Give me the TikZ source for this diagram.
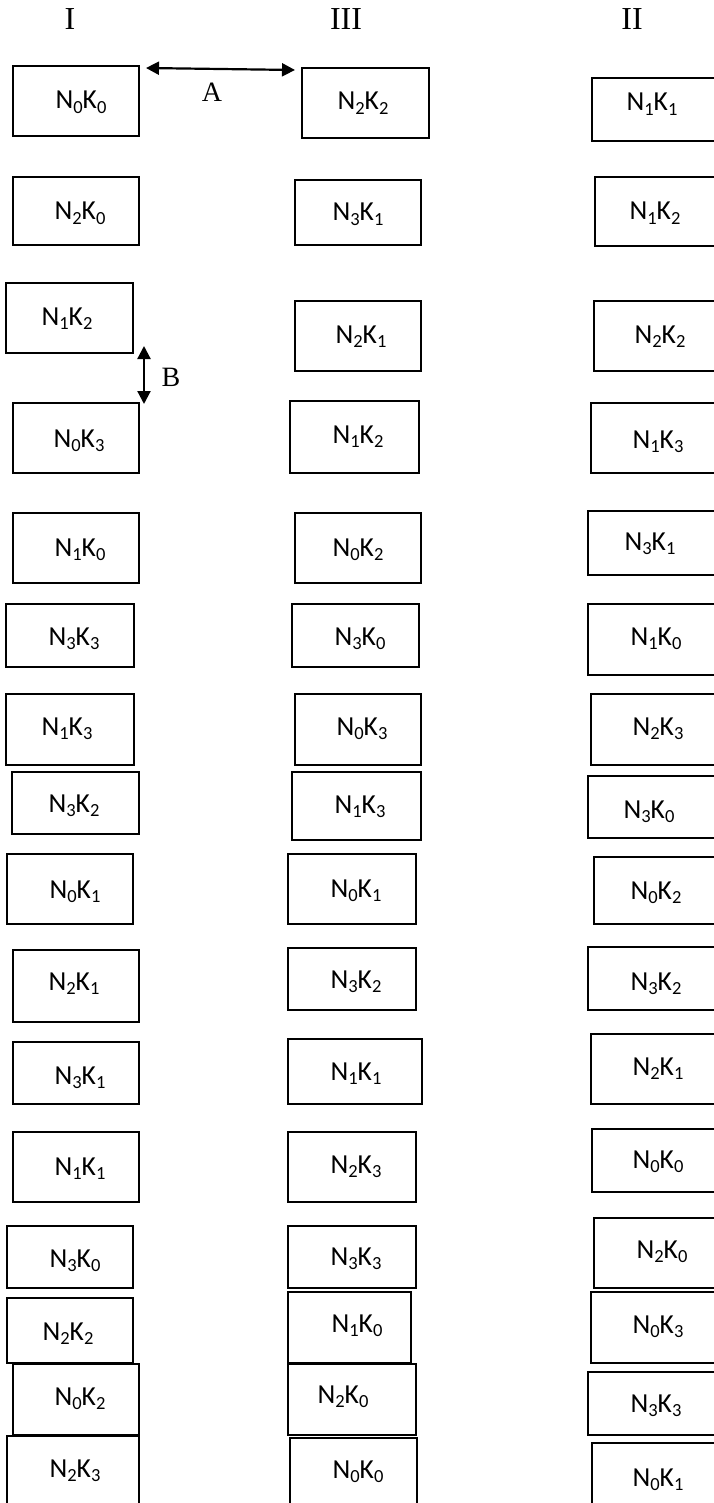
\documentclass[tikz,border=0pt]{standalone}
\usepackage{fontspec}
\setmainfont{Liberation Serif}
\newfontfamily\calib{Carlito}
\usetikzlibrary{arrows.meta}
\newcommand\sbs[1]{\raisebox{-4.5pt}{\fontsize{18.5}{18.5}\selectfont #1}}
\newcommand\bx[9]{%
  \node[cell, minimum width={#4pt-#2pt}, minimum height={#5pt-#3pt}] (#1) at (#2,#3) {};
  \node[lab] (#1t) at (#6,#7) {N\sbs{#8}K\sbs{#9}};
}
\begin{document}
\begin{tikzpicture}[x=1pt,y=-1pt,
  cell/.style={draw, line width=2pt, anchor=north west, inner sep=0pt, outer sep=0pt},
  lab/.style={anchor=base, inner sep=0pt, font=\calib\fontsize{27.5}{27.5}\selectfont},
  hdr/.style={inner sep=0pt, font=\fontsize{32}{32}\selectfont},
  let/.style={inner sep=0pt, font=\fontsize{28}{28}\selectfont},
  dbl/.style={{Triangle[length=13pt,width=13pt]}-{Triangle[length=13pt,width=13pt]}, line width=2.2pt}]
\useasboundingbox (0,0) rectangle (713,1503);
% headers
\node[hdr] (h1) at (70,19) {I};
\node[hdr] (h3) at (346,19) {III};
\node[hdr] (h2) at (632,19) {II};
% column I
\bx{a1}{13}{66}{139}{136}{81}{109}{0}{0}
\bx{a2}{13}{177}{139}{245}{80}{220}{2}{0}
\bx{a3}{6}{283}{133}{353}{67}{325}{1}{2}
\bx{a4}{13}{403}{139}{473}{79}{447}{0}{3}
\bx{a5}{13}{513}{139}{583}{80}{556}{1}{0}
\bx{a6}{6}{604}{134}{667}{74}{645}{3}{3}
\bx{a7}{6}{694}{134}{765}{67}{735}{1}{3}
\bx{a8}{12}{772}{139}{834}{74}{812}{3}{2}
\bx{a9}{7}{854}{133}{924}{75}{898}{0}{1}
\bx{a10}{13}{950}{139}{1022}{74}{990}{2}{1}
\bx{a11}{13}{1042}{139}{1104}{80}{1084}{3}{1}
\bx{a12}{13}{1132}{139}{1202}{80}{1175}{1}{1}
\bx{a13}{7}{1226}{133}{1288}{75}{1267}{3}{0}
\bx{a14}{7}{1298}{133}{1363}{68}{1340}{2}{2}
\bx{a15}{13}{1364}{139}{1435}{80}{1405}{0}{2}
\bx{a16}{7}{1436}{139}{1512}{75}{1477}{2}{3}
% column III
\bx{b1}{302}{68}{429}{138}{363}{110}{2}{2}
\bx{b2}{295}{180}{421}{245}{358}{221}{3}{1}
\bx{b3}{295}{301}{421}{371}{361}{343}{2}{1}
\bx{b4}{290}{401}{419}{473}{358}{443}{1}{2}
\bx{b5}{295}{513}{421}{583}{358}{556}{0}{2}
\bx{b6}{292}{604}{419}{667}{360}{645}{3}{0}
\bx{b7}{295}{694}{421}{765}{362}{735}{0}{3}
\bx{b8}{292}{772}{421}{840}{360}{813}{1}{3}
\bx{b9}{288}{854}{416}{924}{356}{897}{0}{1}
\bx{b10}{288}{948}{416}{1010}{356}{988}{3}{2}
\bx{b11}{288}{1039}{422}{1104}{356}{1080}{1}{1}
\bx{b12}{288}{1132}{416}{1202}{356}{1173}{2}{3}
\bx{b13}{288}{1226}{416}{1288}{356}{1265}{3}{3}
\bx{b14}{288}{1292}{411}{1363}{357}{1332}{1}{0}
\bx{b15}{288}{1364}{416}{1435}{343}{1403}{2}{0}
\bx{b16}{290}{1438}{417}{1512}{358}{1478}{0}{0}
% column II
\bx{c1}{592}{78}{722}{141}{652}{111}{1}{1}
\bx{c2}{595}{177}{722}{246}{655}{220}{1}{2}
\bx{c3}{594}{301}{722}{371}{660}{343}{2}{2}
\bx{c4}{591}{403}{722}{473}{658}{448}{1}{3}
\bx{c5}{588}{511}{722}{575}{650}{550}{3}{1}
\bx{c6}{588}{604}{722}{675}{656}{645}{1}{0}
\bx{c7}{591}{694}{722}{765}{658}{735}{2}{3}
\bx{c8}{588}{776}{722}{838}{649}{818}{3}{0}
\bx{c9}{594}{857}{722}{924}{656}{899}{0}{2}
\bx{c10}{588}{947}{722}{1010}{656}{990}{3}{2}
\bx{c11}{591}{1034}{722}{1104}{658}{1075}{2}{1}
\bx{c12}{592}{1129}{722}{1192}{658}{1168}{0}{0}
\bx{c13}{594}{1218}{722}{1288}{662}{1258}{2}{0}
\bx{c14}{591}{1292}{722}{1363}{658}{1333}{0}{3}
\bx{c15}{588}{1372}{722}{1435}{656}{1412}{3}{3}
\bx{c16}{592}{1443}{722}{1512}{658}{1486}{0}{1}
% arrows
\coordinate (aL) at (146,68);
\coordinate (aR) at (295,70);
\draw[dbl] (aL) -- (aR);
\node[let] (lA) at (212,92) {A};
\coordinate (bT) at (144,346);
\coordinate (bB) at (144,404);
\draw[dbl] (bT) -- (bB);
\node[let] (lB) at (171,377) {B};
\end{tikzpicture}
\end{document}
